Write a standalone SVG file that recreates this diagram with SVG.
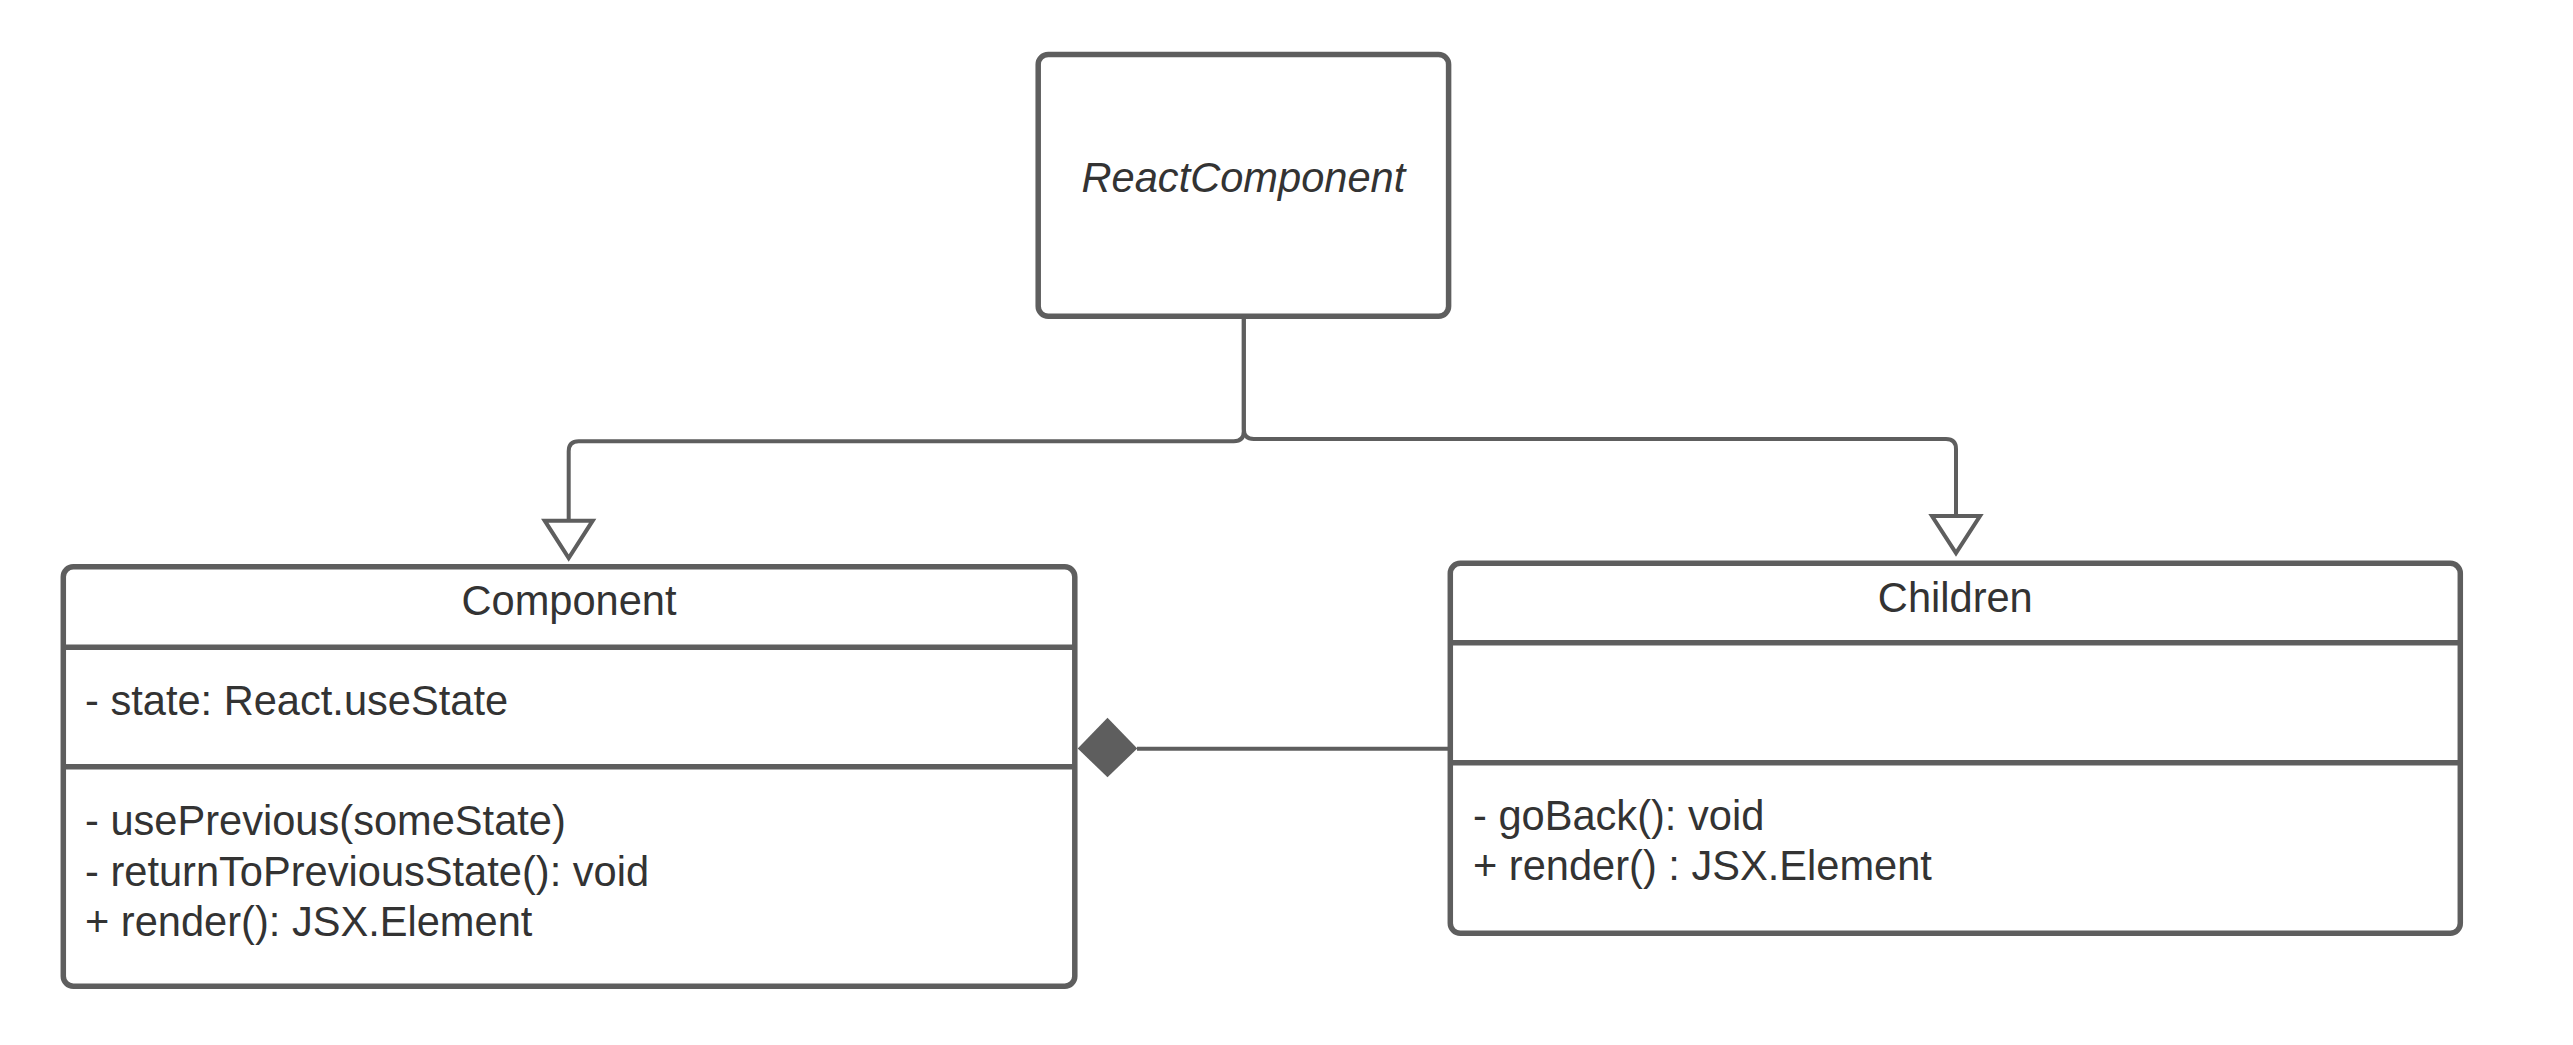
<svg xmlns="http://www.w3.org/2000/svg" width="2573" height="1045" viewBox="0 0 2573 1045">
<style>
.box{fill:#ffffff;stroke:#5e5e5e;stroke-width:5.5}
.div{stroke:#5e5e5e;stroke-width:5.5;fill:none}
.conn{fill:none;stroke:#5e5e5e;stroke-width:4}
.head{fill:#ffffff;stroke:#5e5e5e;stroke-width:4;stroke-linejoin:miter}
.dia{fill:#5e5e5e;stroke:none}
text{font-family:"Liberation Sans",Arial,sans-serif;font-size:41.6px;fill:#333333}
.c{text-anchor:middle}
.i{font-style:italic}
</style>
<rect width="2573" height="1045" fill="#ffffff"/>
<g id="connectors">
<path class="conn" d="M1243.8 316 V431.3 Q1243.8 441.3 1233.8 441.3 H578.7 Q568.7 441.3 568.7 451.3 V520.7"/>
<polygon class="head" points="544.7,520.7 592.7,520.7 568.7,558"/>
<path class="conn" d="M1243.8 316 V429 Q1243.8 439 1253.8 439 H1946 Q1956 439 1956 449 V516"/>
<polygon class="head" points="1932,516 1980,516 1956,553"/>
<path class="conn" d="M1137 748.8 H1450.3"/>
<polygon class="dia" points="1077.7,748.5 1107.5,717.7 1137.3,748.5 1107.5,777.3"/>
</g>
<g id="ReactComponent">
<rect class="box" x="1038.2" y="54.5" width="410.4" height="261.8" rx="10"/>
<text class="c i" x="1243.4" y="191.7">ReactComponent</text>
</g>
<g id="Component">
<rect class="box" x="63.3" y="566.8" width="1011.5" height="419.4" rx="10"/>
<line class="div" x1="63.3" y1="647.2" x2="1074.8" y2="647.2"/>
<line class="div" x1="63.3" y1="766.8" x2="1074.8" y2="766.8"/>
<text class="c" x="569" y="615">Component</text>
<text x="85" y="715">- state: React.useState</text>
<text x="85" y="835">- usePrevious(someState)</text>
<text x="85" y="885.5">- returnToPreviousState(): void</text>
<text x="85" y="935.5">+ render(): JSX.Element</text>
</g>
<g id="Children">
<rect class="box" x="1450.3" y="563.3" width="1010" height="370" rx="10"/>
<line class="div" x1="1450.3" y1="642.7" x2="2460.3" y2="642.7"/>
<line class="div" x1="1450.3" y1="762.7" x2="2460.3" y2="762.7"/>
<text class="c" x="1955.3" y="611.5">Children</text>
<text x="1473" y="830">- goBack(): void</text>
<text x="1473" y="879.5">+ render() : JSX.Element</text>
</g>
</svg>
